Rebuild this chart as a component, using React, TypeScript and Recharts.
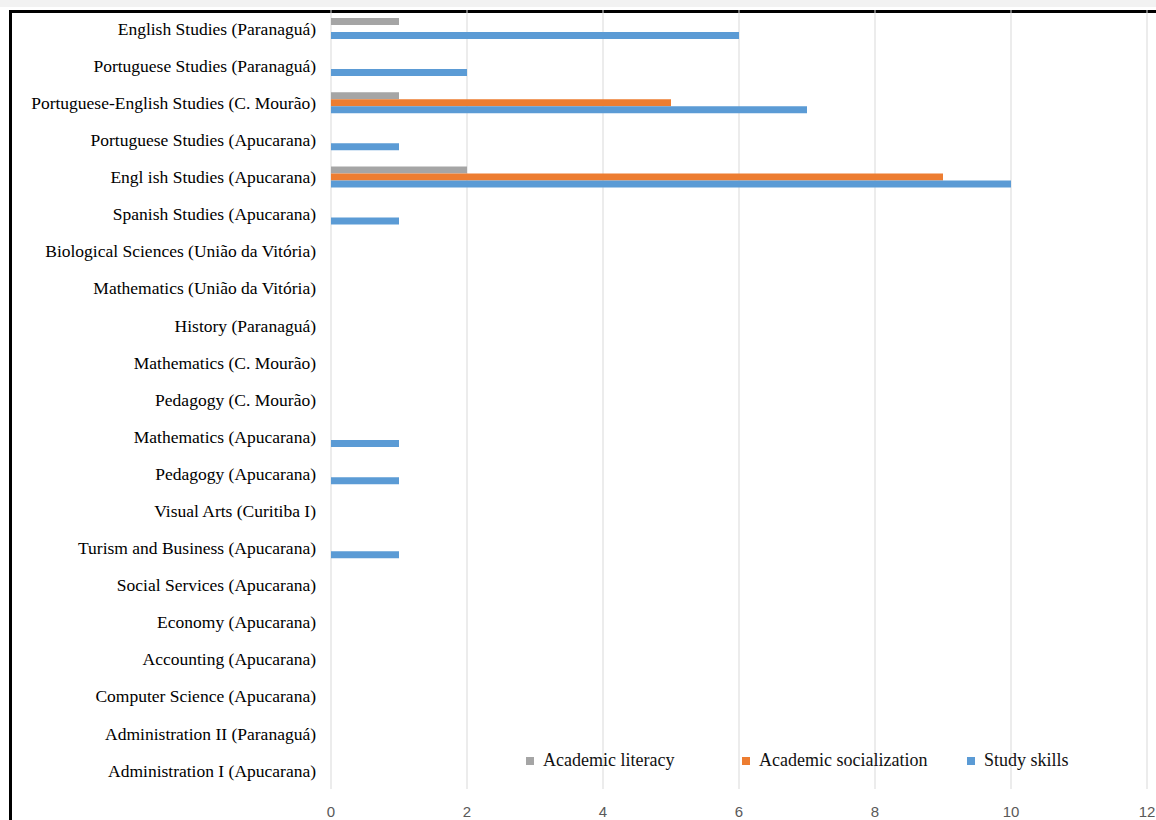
import React from "react";
import {
  BarChart,
  Bar,
  XAxis,
  YAxis,
  CartesianGrid,
  Legend,
} from "recharts";

const courses = [
  "English Studies (Paranaguá)",
  "Portuguese Studies (Paranaguá)",
  "Portuguese-English Studies (C. Mourão)",
  "Portuguese Studies (Apucarana)",
  "Engl ish Studies (Apucarana)",
  "Spanish Studies (Apucarana)",
  "Biological Sciences (União da Vitória)",
  "Mathematics (União da Vitória)",
  "History (Paranaguá)",
  "Mathematics (C. Mourão)",
  "Pedagogy (C. Mourão)",
  "Mathematics (Apucarana)",
  "Pedagogy (Apucarana)",
  "Visual Arts (Curitiba I)",
  "Turism and Business (Apucarana)",
  "Social Services (Apucarana)",
  "Economy (Apucarana)",
  "Accounting (Apucarana)",
  "Computer Science (Apucarana)",
  "Administration II (Paranaguá)",
  "Administration I (Apucarana)",
];

const academicLiteracy = [1, 0, 1, 0, 2, 0, 0, 0, 0, 0, 0, 0, 0, 0, 0, 0, 0, 0, 0, 0, 0];
const academicSocialization = [0, 0, 5, 0, 9, 0, 0, 0, 0, 0, 0, 0, 0, 0, 0, 0, 0, 0, 0, 0, 0];
const studySkills = [6, 2, 7, 1, 10, 1, 0, 0, 0, 0, 0, 1, 1, 0, 1, 0, 0, 0, 0, 0, 0];

const xTicks = [0, 2, 4, 6, 8, 10, 12];

const series = [
  { key: "literacy", label: "Academic literacy", color: "#A5A5A5", width: 216 },
  { key: "socialization", label: "Academic socialization", color: "#ED7D31", width: 225 },
  { key: "skills", label: "Study skills", color: "#5B9BD5", width: 120 },
];

const data = courses.map((name, i) => ({
  name,
  literacy: academicLiteracy[i],
  socialization: academicSocialization[i],
  skills: studySkills[i],
}));

const serif = "'Liberation Serif', 'Times New Roman', serif";

const renderLegend = () => (
  <div style={{ display: "flex", alignItems: "center", fontFamily: serif, fontSize: 18, color: "#111" }}>
    {series.map((s) => (
      <div key={s.key} style={{ display: "flex", alignItems: "center", width: s.width }}>
        <span style={{ display: "inline-block", width: 8, height: 8, background: s.color, marginRight: 9 }} />
        <span>{s.label}</span>
      </div>
    ))}
  </div>
);

export default function App() {
  return (
    <div style={{ position: "absolute", top: 0, left: 0, width: 1156, height: 820, overflow: "hidden", background: "#fff" }}>
      <div style={{ position: "absolute", top: 0, left: 0, width: 1156, height: 7, background: "#f2f2f2" }} />
      <div
        style={{
          position: "absolute",
          top: 10,
          left: 9,
          width: 1200,
          height: 900,
          borderTop: "3px solid #000",
          borderLeft: "3px solid #000",
        }}
      />
      <div style={{ position: "absolute", top: 0, left: 0 }}>
        <BarChart
          width={1156}
          height={820}
          data={data}
          layout="vertical"
          barSize={7}
          barGap={0}
          margin={{ top: 10, right: 9, bottom: 0, left: 0 }}
        >
          <CartesianGrid horizontal={false} stroke="#D9D9D9" />
          <XAxis
            type="number"
            domain={[0, 12]}
            ticks={xTicks}
            height={31}
            axisLine={false}
            tickLine={false}
            tickSize={0}
            tickMargin={17}
            tick={{ fill: "#595959", fontSize: 15, fontFamily: "'Liberation Sans', Arial, sans-serif" }}
          />
          <YAxis
            type="category"
            dataKey="name"
            width={331}
            axisLine={false}
            tickLine={false}
            tickSize={0}
            tickMargin={15}
            interval={0}
            tick={{ fill: "#000", fontSize: 17.5, fontFamily: serif }}
          />
          <Legend
            layout="horizontal"
            verticalAlign="middle"
            content={renderLegend}
            wrapperStyle={{ position: "absolute", left: 526, top: 750, width: 620, height: 22 }}
          />
          {series.map((s) => (
            <Bar key={s.key} dataKey={s.key} name={s.label} fill={s.color} isAnimationActive={false} />
          ))}
        </BarChart>
      </div>
    </div>
  );
}
